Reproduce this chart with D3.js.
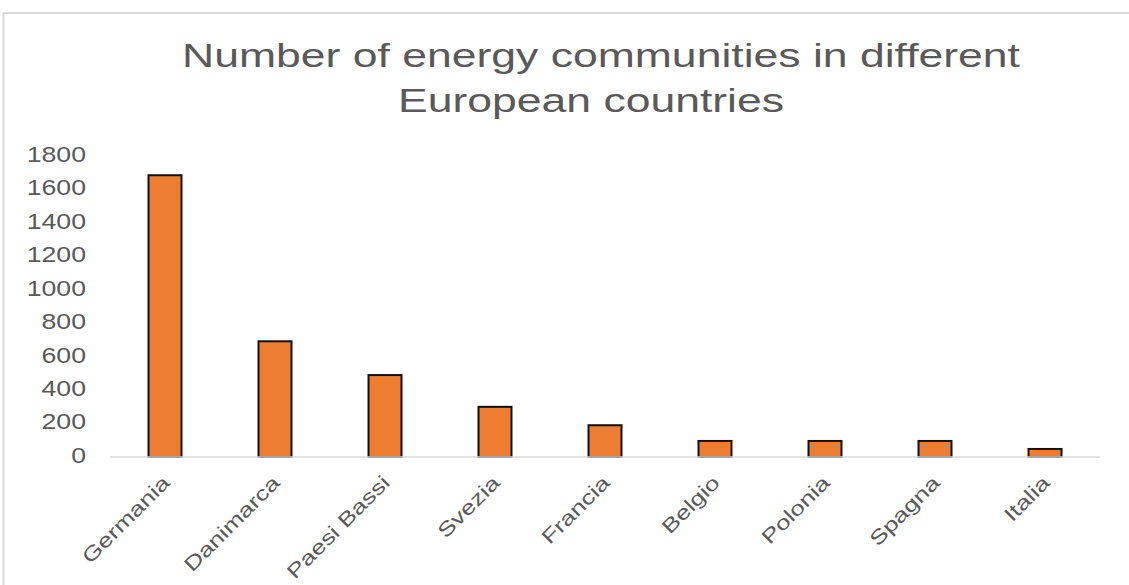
<!DOCTYPE html>
<html>
<head>
<meta charset="utf-8">
<script src="https://cdn.jsdelivr.net/npm/d3@7"></script>
<style>
  html, body { margin: 0; padding: 0; background: #fff; }
  svg { display: block; }
  text { font-family: "Liberation Sans", Arial, sans-serif; fill: #595959; }
</style>
</head>
<body>
<svg id="chart" width="1129" height="585"></svg>
<script>
const titleLines = ["Number of energy communities in different", "European countries"];
const categories = ["Germania", "Danimarca", "Paesi Bassi", "Svezia", "Francia", "Belgio", "Polonia", "Spagna", "Italia"];
const values = [1685, 692, 490, 300, 190, 96, 96, 96, 48];
const yTicks = [0, 200, 400, 600, 800, 1000, 1200, 1400, 1600, 1800];

const svg = d3.select("#chart");

// frame
svg.append("rect")
  .attr("x", 3.5).attr("y", 13)
  .attr("width", 1140).attr("height", 600)
  .attr("fill", "#fff")
  .attr("stroke", "#d9d9d9").attr("stroke-width", 2);

const x = d3.scaleBand().domain(categories).range([110, 1100])
  .paddingInner(0.7).paddingOuter(0.35);
const y = d3.scaleLinear().domain([0, 1800]).range([457, 156]);

// title
const titleX = [601, 591];
const titleY = [67, 112];
svg.selectAll("text.title").data(titleLines).join("text")
  .attr("class", "title")
  .attr("text-anchor", "middle")
  .attr("font-size", 32.5)
  .attr("transform", (d, i) => `translate(${titleX[i]},${titleY[i]}) scale(1.37,1)`)
  .text(d => d);

// y axis labels
const yAxis = d3.axisLeft(y).tickValues(yTicks).tickSize(0).tickPadding(0).tickFormat(d3.format("d"));
const gy = svg.append("g").attr("transform", "translate(86,0)").call(yAxis);
gy.select(".domain").remove();
gy.selectAll(".tick text")
  .attr("font-size", 21.5)
  .attr("fill", "#595959")
  .attr("font-family", "Liberation Sans, Arial, sans-serif")
  .attr("dy", "0.32em")
  .attr("y", -1.5)
  .attr("x", 0)
  .attr("transform", "scale(1.24,1)");

// bars
svg.append("g").selectAll("rect").data(categories).join("rect")
  .attr("x", d => x(d))
  .attr("y", (d, i) => y(values[i]))
  .attr("width", x.bandwidth())
  .attr("height", (d, i) => y(0) - y(values[i]))
  .attr("fill", "#ED7D31")
  .attr("stroke", "#111")
  .attr("stroke-width", 2);

// x axis line
const xAxis = d3.axisBottom(x).tickSize(0).tickFormat("");
const gx = svg.append("g").attr("transform", "translate(0,457)").call(xAxis);
gx.select(".domain").attr("stroke", "#d9d9d9").attr("stroke-width", 1.5)
  .attr("d", "M110,0H1100");

// x labels
svg.append("g").selectAll("text").data(categories).join("text")
  .attr("text-anchor", "end")
  .attr("font-size", 20)
  .attr("transform", d => `translate(${x(d) + x.bandwidth() / 2 + 6},484) rotate(-45) scale(1.3,1)`)
  .text(d => d);
</script>
</body>
</html>
